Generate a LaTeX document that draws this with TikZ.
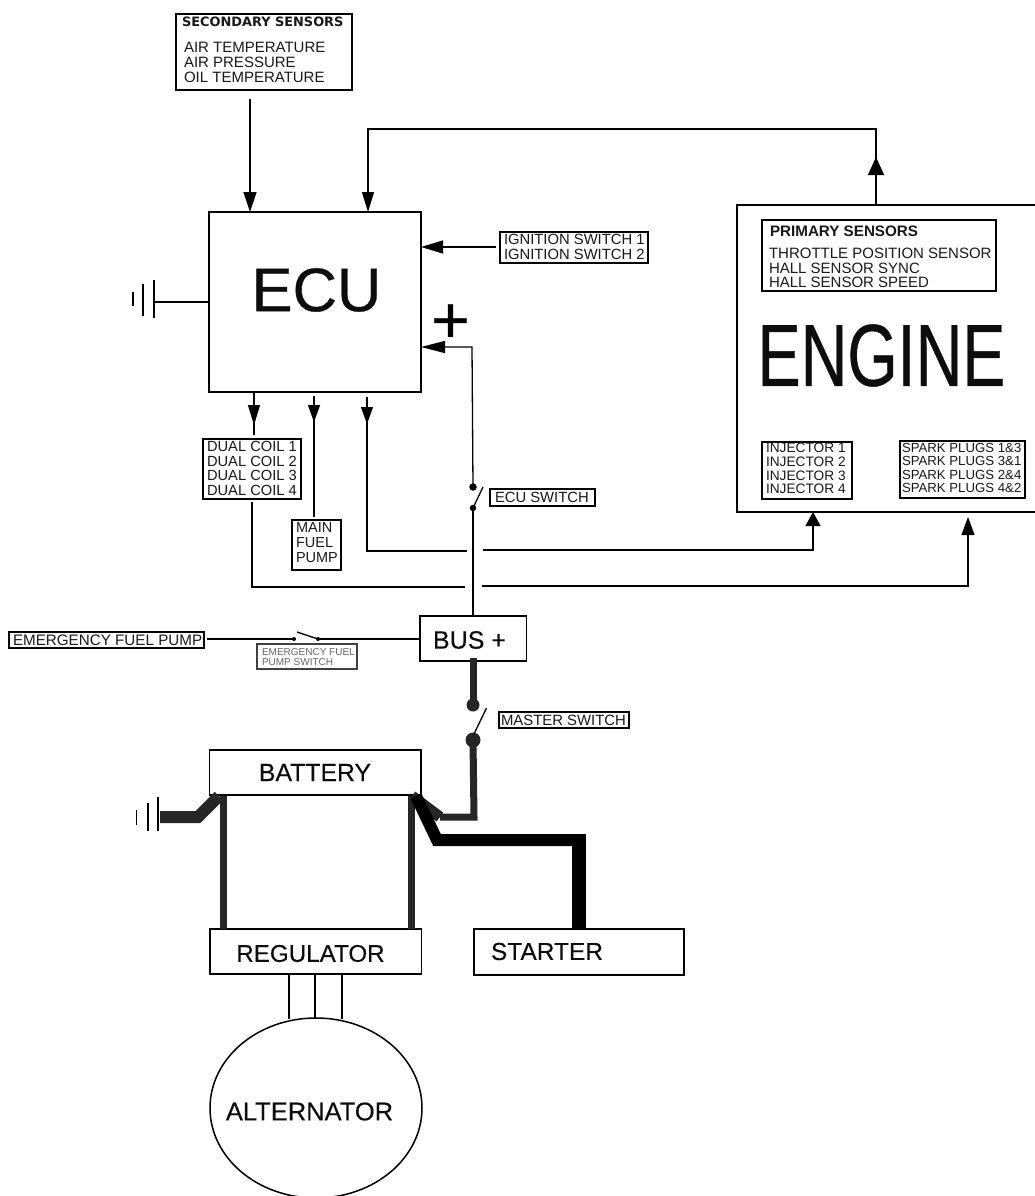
\documentclass[tikz,border=0pt]{standalone}
\usepackage{fontspec}
\usepackage{graphicx}
\setmainfont{Liberation Sans}
\newfontfamily\hdfont{DejaVu Sans}
\newfontfamily\bigfont[FakeBold=0.5]{Liberation Sans}
\newfontfamily\midfont[FakeBold=0.25]{Liberation Sans}
\usetikzlibrary{arrows.meta,calc,shapes.geometric}
\newcommand{\fsz}[2]{\fontsize{#1}{#2}\selectfont}
\tikzset{
  x=1pt,y=-1pt,
  wire/.style={draw=black,line width=1.3pt},
  awire/.style={wire,-{Triangle[length=#1,width=13pt]}},
  awire/.default=20pt,
  heavy/.style={draw=black!85,line width=#1,line join=miter},
  plate/.style={draw=black,line width=1.2pt},
  frame/.style={draw=black,line width=1.5pt,fill=white,inner sep=0pt,outer sep=0pt},
  lab/.style={inner sep=0pt,outer sep=0pt,anchor=west,align=left,text=black!90},
  big/.style={inner sep=0pt,outer sep=0pt,anchor=center,text=black!95},
  dot/.style={circle,fill=black,inner sep=0pt,outer sep=0pt,minimum size=#1},
}
% corner-to-corner box node
\newcommand{\bx}[6][]{\node[frame,#1,minimum width={(#5-#3)*1pt},minimum height={(#6-#4)*1pt}] (#2) at ({(#3+#5)/2},{(#4+#6)/2}) {};}
% text block: name, x, y-centre, size, leading, text
\newcommand{\tb}[6]{\node[lab,font=\fsz{#4}{#5}] (#1) at (#2,#3) {#6};}
\begin{document}
\begin{tikzpicture}
\useasboundingbox (0,0) rectangle (1035,1196);
\clip (0,0) rectangle (1035,1196);
\fill[white] (0,0) rectangle (1035,1196);

% ---- named bends of the heavy wiring
\coordinate (gndE) at (160,817);
\coordinate (gndK) at (198,817);
\coordinate (batL) at (219,796);
\coordinate (batR) at (412,796);
\coordinate (mK) at (440,817);
\coordinate (mC) at (474,817);
\coordinate (stL) at (416,796);
\coordinate (stK) at (437,840);
\coordinate (stC) at (579,840);

% ---- boxes
\bx{secondary}{176}{14}{352}{90}
\bx{ecu}{209}{212}{421}{392}
\bx{ignition}{500}{232}{648}{263}
\bx[line width=2pt]{engine}{737}{205}{1045}{512}
\bx{primary}{762}{220}{996}{291}
\bx{injectors}{762}{442}{852}{499}
\bx{sparks}{900}{441}{1025}{498}
\bx{coils}{203}{439}{301}{499}
\bx{pump}{292}{520}{341}{570}
\bx{ecusw}{490}{489}{595}{506}
\bx{bus}{420}{616}{526.5}{661}
\bx{efp}{9}{632}{204}{648}
\bx[draw=black!75]{efpsw}{257}{644}{357}{669}
\bx{mastersw}{499}{712}{629}{728}
\bx{battery}{209.5}{750}{421}{795}
\bx{regulator}{210}{929}{421.5}{974}
\bx{starter}{474}{929}{684}{975}
\node[frame,ellipse,minimum width=212pt,minimum height=180pt] (alternator) at (316,1108) {};

% ---- texts
\node[lab,font=\hdfont\bfseries\fsz{12.9}{14}] (sectitle) at (182,22) {SECONDARY SENSORS};
\tb{seclist}{184}{62.5}{15}{14.7}{AIR TEMPERATURE\\AIR PRESSURE\\OIL TEMPERATURE}
\node[big,font=\bigfont\fsz{61.5}{62}] (ecutxt) at (316.5,290) {ECU};
\tb{igntxt}{504}{246.5}{14.8}{15}{IGNITION SWITCH 1\\IGNITION SWITCH 2}
\node[lab,font=\bfseries\fsz{15.2}{16}] (primtitle) at (770,231) {PRIMARY SENSORS};
\tb{primlist}{769}{268}{15}{14.7}{THROTTLE POSITION SENSOR\\HALL SENSOR SYNC\\HALL SENSOR SPEED}
\node[big,font=\bigfont\fsz{88}{90}] (enginetxt) at (881.5,355.5) {\scalebox{0.735}[1]{ENGINE}};
\tb{injtxt}{766}{468.5}{13.7}{13.7}{INJECTOR 1\\INJECTOR 2\\INJECTOR 3\\INJECTOR 4}
\tb{sparktxt}{902}{468}{13.2}{13.3}{SPARK PLUGS 1\&3\\SPARK PLUGS 3\&1\\SPARK PLUGS 2\&4\\SPARK PLUGS 4\&2}
\tb{coiltxt}{207}{468.5}{14.7}{14.5}{DUAL COIL 1\\DUAL COIL 2\\DUAL COIL 3\\DUAL COIL 4}
\tb{pumptxt}{296}{543}{14.5}{15}{MAIN\\FUEL\\PUMP}
\tb{ecuswtxt}{495}{497.5}{14.8}{15}{ECU SWITCH}
\tb{efptxt}{13}{640}{15.2}{15}{EMERGENCY FUEL PUMP}
\node[lab,font=\fsz{10}{10},text=black!60] (efpswtxt) at (262,657) {EMERGENCY FUEL\\PUMP SWITCH};
\tb{mastertxt}{501}{720}{14.9}{15}{MASTER SWITCH}
\node[big,font=\midfont\fsz{25}{26}] (bustxt) at (469.5,640) {BUS +};
\node[big,font=\midfont\fsz{24.8}{25}] (battxt) at (315,772.5) {BATTERY};
\node[big,font=\midfont\fsz{24.2}{25}] (regtxt) at (310.5,953.5) {REGULATOR};
\node[big,font=\midfont\fsz{24.5}{25}] (starttxt) at (547,951.5) {STARTER};
\node[big,font=\midfont\fsz{25.5}{26}] (alttxt) at (309.5,1111.5) {ALTERNATOR};
\node[big,font=\bigfont\fsz{66}{66},text=black] (plustxt) at (450.5,323.5) {+};

% ---- ground symbols
\coordinate (g1) at (154,302);
\draw[wire] (ecu.west |- g1) -- (g1);
\draw[plate] (154,280) -- (154,318) (143,284) -- (143,316) (133,292) -- (133,306);
\draw[plate] (158,797) -- (158,831) (148,803) -- (148,831) (136.6,810) -- (136.6,825);

% ---- thin signal wires
\coordinate (secsrc) at (250,99);
\draw[awire] (secsrc) -- (secsrc |- ecu.north);
\coordinate (fb) at (876,129);
\coordinate (fbL) at (368,129);
\draw[wire,-{Triangle[length=20pt,width=12pt]}] (engine.north -| fb) -- (fb) -- (fbL) -- (fbL |- ecu.north);
\coordinate (fbH) at (876,157);
\draw[wire,-{Triangle[length=18pt,width=16pt]}] (engine.north -| fb) -- (fbH);
\coordinate (ig) at (496,247);
\draw[wire,-{Triangle[length=22pt,width=13pt]}] (ig) -- (ecu.east |- ig);
% ECU plus feed
\coordinate (swT) at (473,487);
\coordinate (swB) at (473,508);
\coordinate (plusK) at (472,347);
\draw[wire,-{Triangle[length=24pt,width=12pt]}] (swT) -- (plusK) -- (ecu.east |- plusK);
\draw[wire] (swB) -- (swB |- bus.north);
\node[dot=7.5pt] (swTd) at (swT) {};
\node[dot=6.5pt] (swBd) at (swB) {};
\draw[wire] (swB) -- (483,487);

% ECU outputs
\coordinate (o1) at (254,392);
\coordinate (o1b) at (254,435);
\draw[wire] (o1) -- (o1b);
\draw[wire,-{Triangle[length=20pt,width=12pt]}] (o1) -- (254,425);
\coordinate (o2) at (314,396);
\draw[wire] (o2) -- (314,517);
\draw[wire,-{Triangle[length=17pt,width=12pt]}] (o2) -- (314,422);
\coordinate (o3) at (367,397);
\draw[wire,-{Triangle[length=17pt,width=12pt]}] (o3) -- (367,424);
\draw[wire] (o3) -- (367,551) -- (466.5,551);
\coordinate (inj) at (813,550);
\draw[wire,-{Triangle[length=14pt,width=15pt]}] (482.5,550) -- (inj) -- (inj |- engine.south);
\draw[wire] (252,502) -- (252,587) -- (464.5,587);
\coordinate (spk) at (968,586);
\draw[wire,-{Triangle[length=18pt,width=13pt]}] (481.6,586) -- (spk) -- (968,517);

% emergency pump
\coordinate (e1) at (294,639);
\coordinate (e2) at (318,639);
\draw[wire] (207,639) -- (e1);
\draw[wire] (e2) -- (bus.west |- e2);
\node[dot=4pt] (e1d) at (e1) {};
\node[dot=4pt] (e2d) at (e2) {};
\draw[wire] (297,632) -- (e2);

% regulator to alternator
\foreach \xx in {289,315,342}{
  \draw[wire] (\xx,974) -- (\xx,1019);
}

% ---- heavy wiring
\coordinate (mT) at (473,705);
\coordinate (mB) at (473,740);
\draw[heavy=7pt] (473,658) -- (mT);
\node[dot=13pt,fill=black!85] (mTd) at (mT) {};
\node[dot=15pt,fill=black!85] (mBd) at (mB) {};
\draw[wire] (486.5,708) -- (473.5,735);
\draw[heavy=7pt] (mB) -- (mC) -- (mK);
\draw[heavy=11pt] (mK) -- (batR);
\draw[heavy=7pt] (223.6,795.5) -- (223.6,929);
\draw[heavy=7pt] (411,795.5) -- (411,929);
\draw[heavy=12pt] (gndE) -- (gndK) -- (batL);
\draw[draw=black,line width=12pt] (stL) -- (stK) -- (stC);
\draw[draw=black,line width=14pt] (579,834) -- (579,929);
\end{tikzpicture}
\end{document}
